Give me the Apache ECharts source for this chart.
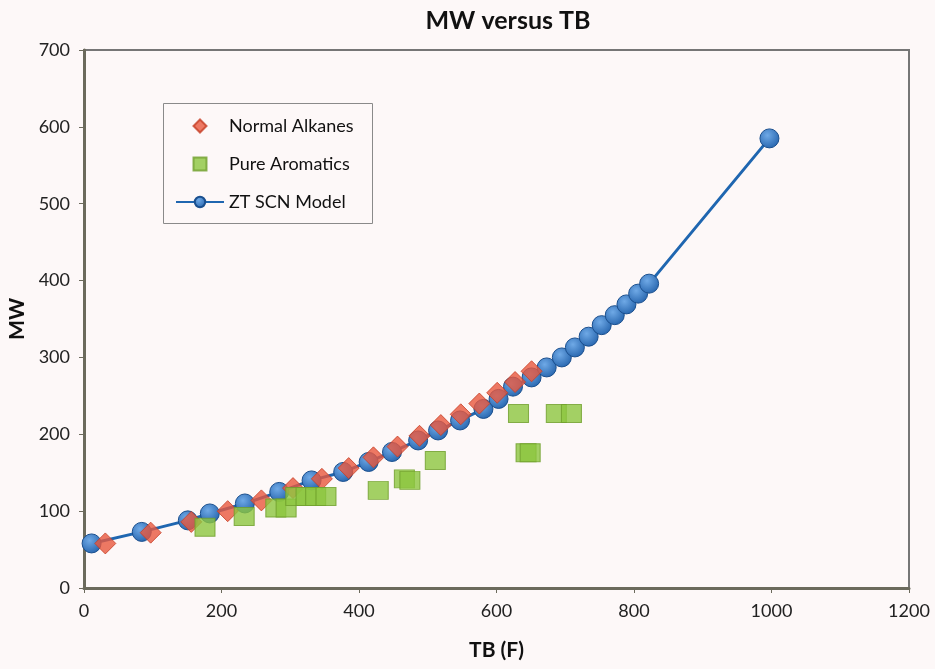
<!DOCTYPE html>
<html>
<head>
<meta charset="utf-8">
<script src="https://cdn.jsdelivr.net/npm/echarts@6/dist/echarts.min.js"></script>
<style>
  html, body { margin: 0; padding: 0; background: #fdf8f8; }
  #chart { width: 935px; height: 669px; }
</style>
</head>
<body>
<div id="chart"></div>
<script>
// normal alkanes (red diamonds)
const alkaneTB = [31, 97, 156, 209, 258, 304, 346, 385, 421, 456, 488, 519, 548, 575, 601, 627, 651];
const alkaneMW = [58, 72, 86, 100, 114, 130, 142, 156, 170, 184, 198, 212, 226, 240, 254, 268, 282];

// pure aromatics (green squares)
const aromTB = [176, 233, 279, 294, 308, 323, 337, 352, 428, 466, 474, 511, 632, 643, 649, 687, 709];
const aromMW = [79, 93, 104, 104, 119, 119, 119, 119, 127, 142, 140, 166, 227, 176, 176, 227, 227];

// ZT SCN model (blue line + circles)
const modelTB = [11, 84, 151, 183, 234, 284, 331, 377, 414, 448, 486, 515, 547, 581, 603, 624, 651, 673, 695, 714, 734, 753, 772, 789, 806, 822, 997];
const modelMW = [58, 73, 88, 97, 110, 125, 140, 151, 164, 177, 192, 205, 218, 233, 246, 262, 274, 287, 300, 313, 327, 342, 355, 369, 383, 396, 585];

const pairs = (xs, ys) => xs.map((x, i) => [x, ys[i]]);
const font = 'Lato, "Open Sans", sans-serif';

const chart = echarts.init(document.getElementById('chart'));

const blueBall = new echarts.graphic.RadialGradient(0.4, 0.35, 0.75, [
    { offset: 0, color: '#6fa9e6' },
    { offset: 1, color: '#1f5ea8' }
]);

const option = {
    backgroundColor: '#fdf8f8',
    textStyle: { fontFamily: font },
    title: {
        text: 'MW versus TB',
        left: 503,
        top: 3,
        textAlign: 'center',
        textStyle: { fontSize: 25, fontWeight: 'bold', color: '#111', fontFamily: font }
    },
    // legend frame
    graphic: [{
        type: 'rect',
        left: 163,
        top: 103,
        shape: { width: 209, height: 120 },
        style: { fill: 'transparent', stroke: '#8a8a8a', lineWidth: 1 },
        z: 10
    }],
    legend: {
        orient: 'vertical',
        left: 175,
        top: 116,
        padding: 0,
        itemGap: 18,
        itemWidth: 48,
        itemHeight: 13,
        symbolKeepAspect: true,
        textStyle: { fontSize: 18, lineHeight: 20, color: '#111', fontFamily: font },
        data: [
            { name: 'Normal Alkanes', icon: 'path://M0,-1L1,0L0,1L-1,0Z' },
            { name: 'Pure Aromatics', icon: 'path://M0,0L1,0L1,1L0,1Z' },
            { name: 'ZT SCN Model' }
        ]
    },
    grid: {
        left: 84,
        right: 26,
        top: 50,
        bottom: 81,
        outerBoundsMode: 'none',
        show: true,
        borderColor: '#767676',
        borderWidth: 2,
        backgroundColor: 'transparent'
    },
    xAxis: {
        type: 'value',
        min: 0,
        max: 1200,
        interval: 200,
        name: 'TB (F)',
        nameLocation: 'middle',
        nameGap: 52,
        nameTextStyle: { fontSize: 21, fontWeight: 'bold', color: '#111' },
        axisLine: { lineStyle: { color: '#6b6a5c', width: 3 } },
        axisTick: { inside: false, length: 5, lineStyle: { color: '#6b6a5c' } },
        axisLabel: { fontSize: 18, color: '#222', margin: 14, formatter: v => String(v) },
        splitLine: { show: false }
    },
    yAxis: {
        type: 'value',
        min: 0,
        max: 700,
        interval: 100,
        name: 'MW',
        nameLocation: 'middle',
        nameGap: 52,
        nameRotate: 90,
        nameTextStyle: { fontSize: 21, fontWeight: 'bold', color: '#111' },
        axisLine: { show: true, lineStyle: { color: '#6b6a5c', width: 3 } },
        axisTick: { show: true, inside: false, length: 5, lineStyle: { color: '#6b6a5c' } },
        axisLabel: { fontSize: 18, color: '#222', margin: 14, formatter: v => String(v) },
        splitLine: { show: false }
    },
    series: [
        {
            name: 'ZT SCN Model',
            type: 'line',
            z: 2,
            data: pairs(modelTB, modelMW),
            symbol: 'circle',
            symbolSize: 19,
            lineStyle: { color: '#1f66b0', width: 3 },
            itemStyle: { color: blueBall, borderColor: '#1a4f8e', borderWidth: 1 },
            emphasis: { disabled: true }
        },
        {
            name: 'Normal Alkanes',
            type: 'scatter',
            z: 5,
            data: pairs(alkaneTB, alkaneMW),
            symbol: 'diamond',
            symbolSize: 21,
            itemStyle: { color: '#e9573d', borderColor: '#c63e26', borderWidth: 1 }
        },
        {
            name: 'Pure Aromatics',
            type: 'scatter',
            z: 6,
            data: pairs(aromTB, aromMW),
            symbol: 'rect',
            symbolSize: [20, 18],
            itemStyle: { color: '#8cc63e', borderColor: '#6f9f2c', borderWidth: 1 }
        }
    ]
};

chart.setOption(option);
</script>
</body>
</html>
